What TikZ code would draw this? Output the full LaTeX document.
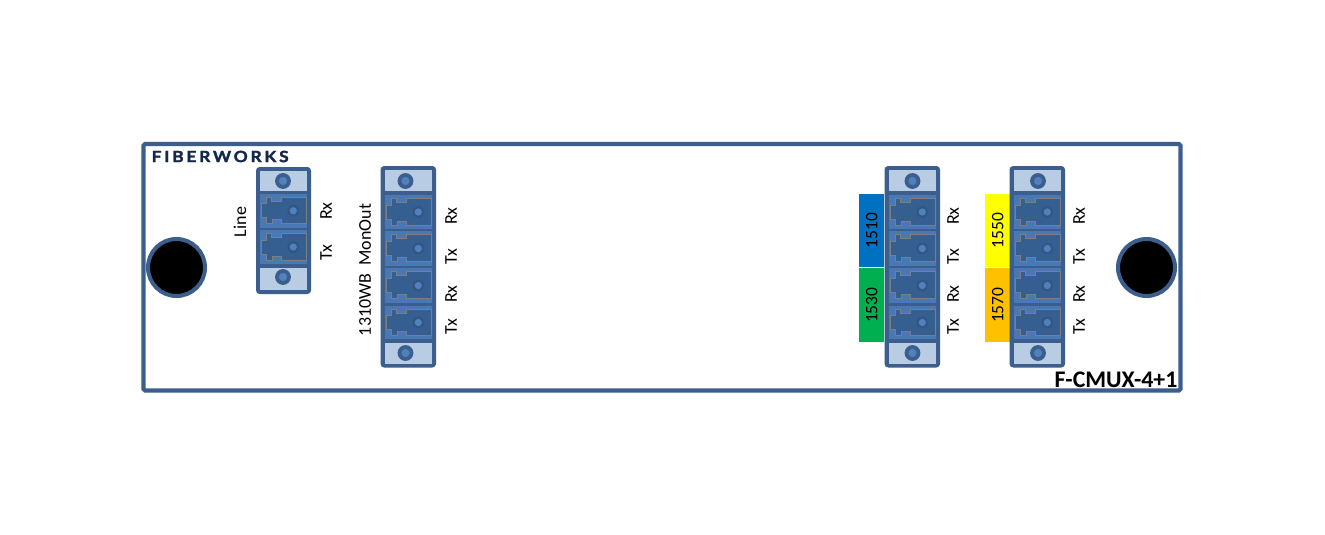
\documentclass[tikz,border=0pt]{standalone}
\usepackage{fontspec}
\setmainfont{Carlito}
\newfontfamily\logofont[LetterSpace=18,FakeBold=1.8,FakeStretch=1.12]{Lato}
\definecolor{frameblue}{HTML}{3B5E8C}
\definecolor{plateblue}{HTML}{B8CCE4}
\definecolor{portblue}{HTML}{4A78B5}
\definecolor{portdark}{HTML}{365F91}
\definecolor{portedge}{HTML}{7A7F85}
\definecolor{dotblue}{HTML}{4F81BD}
\definecolor{logonavy}{HTML}{14284B}
\newcommand{\portcell}[4]{% x0, y0, height, name
  \fill[portblue] (#1,#2) rectangle +(47,#3);
  \draw[fill=portdark,draw=portedge,line width=.8pt,shift={(#1,#2)},yscale=#3/34]
    (1,10)--(6,10)--(6,3.3)--(11.7,3.3)--(11.7,7.3)--(21,7.3)--(21,3.3)--(46.6,3.3)--(46.6,30)--(21,30)--(21,26)--(12.7,26)--(12.7,30)--(6,30)--(6,24)--(1,24)--cycle;
  \fill[portdark!92!black] (#1+33.3,#2+#3/2) circle (6);
  \fill[dotblue] (#1+33.3,#2+#3/2) circle (3.6);
}
\newcommand{\plate}[4]{% x0, y0, height, name
  \fill[plateblue] (#1,#2) rectangle +(47,#3);
}
\tikzset{
  screwouter/.style={circle,draw=frameblue,line width=3.8pt,fill=dotblue,minimum size=12pt,inner sep=0pt},
  shellbox/.style={draw=frameblue,fill=frameblue,line width=4pt,rounded corners=2pt},
  hole/.style={circle,draw=frameblue,fill=black,line width=4pt,minimum size=57pt,inner sep=0pt},
  vlabel/.style={rotate=90,font=\fontsize{18}{19}\selectfont,inner sep=0pt,text=black},
  bandlabel/.style={rotate=90,font=\fontsize{17.5}{18}\selectfont,inner sep=0pt,text=black},
  band/.style={inner sep=0pt,minimum width=25pt,minimum height=#1,anchor=north west}
}
\begin{document}
\begin{tikzpicture}[x=1pt,y=-1pt]
\useasboundingbox (0,0) rectangle (1325,535);
\fill[white] (0,0) rectangle (1325,535);
\draw[draw=frameblue,line width=4.2pt,rounded corners=1.5pt,fill=white] (143.5,144) rectangle (1180.5,390.5);
\node[anchor=west,inner sep=0pt,text=logonavy,font=\fontsize{15.5}{16}\selectfont\logofont\bfseries] (logo) at (151.5,156.5) {FIBERWORKS};
\node[hole] (holeL) at (176.5,267.5) {};
\node[hole] (holeR) at (1146.5,267.5) {};
% two-port module
\draw[shellbox] (258,169) rectangle (309,292);
\plate{260}{171}{20}{lineT}
\portcell{260}{194}{33.5}{lineA}
\portcell{260}{230}{34}{lineB}
\plate{260}{268}{22}{lineB2}
\node[screwouter] (lineS1) at (283,181) {};
\node[screwouter] (lineS2) at (283,277) {};
\node[vlabel] (lbLine) at (240,222) {Line};
\node[vlabel] (lbLRx) at (326,211) {Rx};
\node[vlabel] (lbLTx) at (326,253) {Tx};
% bands
\node[band=73pt,fill={rgb,255:red,0;green,112;blue,192}] (b1510) at (859,194) {};
\node[band=74pt,fill={rgb,255:red,0;green,176;blue,80}] (b1530) at (859,268) {};
\node[band=73pt,fill={rgb,255:red,255;green,255;blue,0}] (b1550) at (985,194) {};
\node[band=74pt,fill={rgb,255:red,255;green,192;blue,0}] (b1570) at (985,268) {};
\node[bandlabel] (t1510) at (b1510.center) {1510};
\node[bandlabel] (t1530) at (b1530.center) {1530};
\node[bandlabel] (t1550) at (b1550.center) {1550};
\node[bandlabel] (t1570) at (b1570.center) {1570};
% four-port modules
\foreach \X/\S/\N in {385/405.5/A,889/912.5/B,1014/1038/C}{
  \draw[shellbox] (\X-2.5,168) rectangle (\X+49,365.5);
  \plate{\X}{170}{21}{top\N}
  \portcell{\X}{195}{34}{p1\N}
  \portcell{\X}{231}{35}{p2\N}
  \portcell{\X}{268}{35}{p3\N}
  \portcell{\X}{306}{33}{p4\N}
  \plate{\X}{343}{21}{bot\N}
  \node[screwouter] (st\N) at (\S,181) {};
  \node[screwouter] (sb\N) at (\S,353) {};
}
\foreach \X/\N in {451/A,953/B,1079/C}{
  \node[vlabel] (rxa\N) at (\X,216) {Rx};
  \node[vlabel] (txa\N) at (\X,257) {Tx};
  \node[vlabel] (rxb\N) at (\X,294) {Rx};
  \node[vlabel] (txb\N) at (\X,327) {Tx};
}
\node[vlabel] (lbMon) at (365,270) {1310WB\ \ MonOut};
\node[anchor=east,inner sep=0pt,font=\fontsize{23.8}{24}\selectfont\bfseries,text=black] (model) at (1177.5,380) {F-CMUX-4+1};
\end{tikzpicture}
\end{document}
